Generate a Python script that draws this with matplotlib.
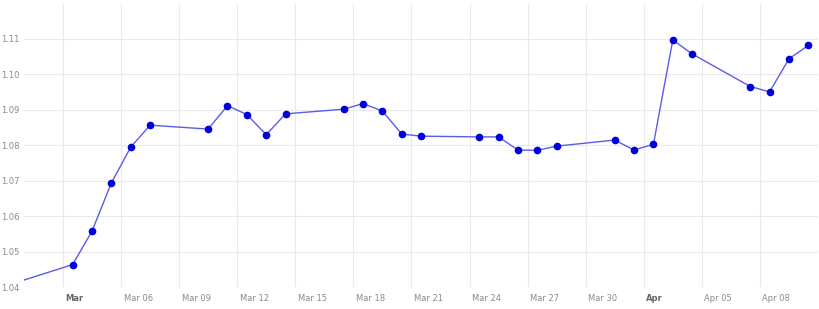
import matplotlib
matplotlib.use("Agg")
import matplotlib.pyplot as plt
from matplotlib.transforms import ScaledTranslation
import pandas as pd

# daily rates (trading days only)
dates = ["2025-02-28", "2025-03-03", "2025-03-04", "2025-03-05", "2025-03-06", "2025-03-07",
         "2025-03-10", "2025-03-11", "2025-03-12", "2025-03-13", "2025-03-14",
         "2025-03-17", "2025-03-18", "2025-03-19", "2025-03-20", "2025-03-21",
         "2025-03-24", "2025-03-25", "2025-03-26", "2025-03-27", "2025-03-28",
         "2025-03-31", "2025-04-01", "2025-04-02", "2025-04-03", "2025-04-04",
         "2025-04-07", "2025-04-08", "2025-04-09", "2025-04-10"]
rates = [1.0412, 1.0464, 1.0558, 1.0694, 1.0795, 1.0857,
         1.0846, 1.0912, 1.0887, 1.0830, 1.0889,
         1.0902, 1.0918, 1.0897, 1.0832, 1.0826,
         1.0824, 1.0824, 1.0787, 1.0786, 1.0798,
         1.0815, 1.0787, 1.0803, 1.1097, 1.1058,
         1.0966, 1.0951, 1.1044, 1.1082]

tick_dates = ["2025-03-03", "2025-03-06", "2025-03-09", "2025-03-12", "2025-03-15",
              "2025-03-18", "2025-03-21", "2025-03-24", "2025-03-27", "2025-03-30",
              "2025-04-02", "2025-04-05", "2025-04-08", "2025-04-11"]
tick_labels = ["Mar", "Mar 06", "Mar 09", "Mar 12", "Mar 15", "Mar 18", "Mar 21",
               "Mar 24", "Mar 27", "Mar 30", "Apr", "Apr 05", "Apr 08", ""]
y_ticks = [1.04, 1.05, 1.06, 1.07, 1.08, 1.09, 1.10, 1.11]

x = pd.to_datetime(dates) + pd.Timedelta(hours=12)

fig = plt.figure(figsize=(8.2, 3.09), dpi=100)
ax = fig.add_axes([24.2 / 820, 21.7 / 309, (818 - 24.2) / 820, (287.3 - 3.5) / 309])

ax.plot(x, rates, color="#5c5ce6", linewidth=1.0, zorder=3)
ax.plot(x, rates, linestyle="none", marker="o", markersize=4.5,
        color="#0000dd", zorder=4)

ax.set_xlim(pd.Timestamp("2025-03-01"), pd.Timestamp("2025-04-11"))
ax.set_ylim(1.04, 1.12)

ax.set_xticks(pd.to_datetime(tick_dates))
ax.set_xticklabels(tick_labels)
ax.set_yticks(y_ticks)
ax.set_yticklabels([f"{v:.2f}" for v in y_ticks])

ax.grid(True, color="#e9e9ef", linewidth=0.8)
ax.set_axisbelow(True)
for s in ax.spines.values():
    s.set_visible(False)

ax.tick_params(axis="both", length=0, labelsize=6, labelcolor="#8a8a8a")
ax.tick_params(axis="x", pad=5)
ax.tick_params(axis="y", pad=3.5)

offset = ScaledTranslation(2.5 / 100, 0, fig.dpi_scale_trans)
for lbl in ax.get_xticklabels():
    lbl.set_horizontalalignment("left")
    lbl.set_transform(lbl.get_transform() + offset)
    if lbl.get_text() in ("Mar", "Apr"):
        lbl.set_fontweight("bold")
        lbl.set_color("#666666")

fig.savefig("out.png", dpi=100)
